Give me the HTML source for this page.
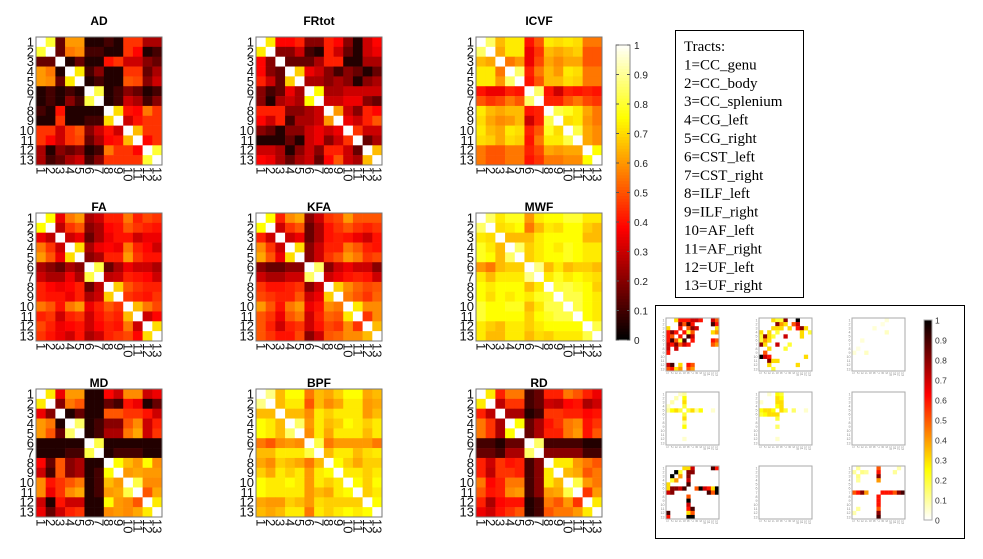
<!DOCTYPE html>
<html><head><meta charset="utf-8"><style>
html,body{margin:0;padding:0;background:#fff;}
svg{display:block;font-family:"Liberation Sans",sans-serif;}
</style></head><body>
<svg id="fig" width="983" height="559" viewBox="0 0 983 559" xmlns="http://www.w3.org/2000/svg">
<g id="main"></g>
<g id="cbar"></g>
<g>
<rect x="675.5" y="30.5" width="128" height="267" fill="#fff" stroke="#000" stroke-width="1"/>
<text id="legtext" font-family="Liberation Serif, serif" font-size="15" fill="#000"></text>
</g>
<g>
<rect x="655.5" y="305.5" width="309" height="233" fill="#fff" stroke="#000" stroke-width="1"/>
<g id="inset"></g>
<g id="icbar"></g>
</g>
</svg>
<script>
const tickLabels = ["1","2","3","4","5","6","7","8","9","10","11","12","13"];
const legendLines = ["Tracts:","1=CC_genu","2=CC_body","3=CC_splenium","4=CG_left","5=CG_right","6=CST_left","7=CST_right","8=ILF_left","9=ILF_right","10=AF_left","11=AF_right","12=UF_left","13=UF_right"];
const cbarTicks = [0,0.1,0.2,0.3,0.4,0.5,0.6,0.7,0.8,0.9,1];
const titles = ["AD","FRtot","ICVF","FA","KFA","MWF","MD","BPF","RD"];
// upper-triangle rows (starting at diagonal)
const AD = [[1,.8,.15,.6,.6,.05,.05,.1,.05,.45,.45,.25,.25],[1,.15,.55,.58,.1,.1,.05,.05,.45,.38,.05,.1],[1,.05,.15,.05,.05,.4,.45,.3,.3,.2,.15],[1,.72,.1,.2,.05,.05,.45,.45,.15,.25],[1,.05,.1,.05,.05,.5,.48,.2,.3],[1,.82,.05,.1,.2,.15,.05,.1],[1,.05,.1,.3,.25,.1,.2],[1,.7,.4,.38,.55,.45],[1,.3,.4,.45,.45],[1,.65,.45,.45],[1,.38,.45],[1,.8],[1]];
const FRtot = [[1,.72,.38,.38,.42,.2,.2,.42,.38,.2,.05,.3,.38],[1,.2,.2,.3,.1,.05,.42,.3,.15,.05,.3,.35],[1,.15,.15,.15,.25,.42,.42,.05,.05,.25,.25],[1,.68,.35,.3,.2,.1,.2,.15,.05,.15],[1,.25,.25,.2,.25,.2,.05,.2,.25],[1,.75,.25,.25,.3,.3,.3,.3],[1,.3,.3,.35,.35,.2,.15],[1,.6,.3,.2,.42,.38],[1,.35,.3,.42,.5],[1,.45,.3,.3],[1,.15,.25],[1,.65],[1]];
const ICVF = [[1,.85,.65,.72,.72,.4,.5,.72,.7,.72,.7,.55,.55],[1,.62,.72,.72,.35,.45,.65,.62,.65,.68,.5,.5],[1,.55,.6,.35,.48,.62,.58,.62,.62,.5,.5],[1,.85,.42,.55,.65,.6,.72,.7,.55,.55],[1,.4,.5,.65,.65,.7,.68,.55,.55],[1,.85,.4,.3,.42,.4,.42,.4],[1,.42,.42,.5,.55,.48,.45],[1,.82,.78,.72,.62,.55],[1,.7,.72,.6,.55],[1,.82,.62,.58],[1,.62,.58],[1,.75],[1]];
const FA = [[1,.75,.35,.55,.6,.25,.3,.42,.42,.55,.42,.48,.45],[1,.28,.45,.5,.2,.25,.38,.4,.5,.45,.42,.4],[1,.3,.35,.15,.25,.35,.4,.4,.3,.35,.35],[1,.7,.25,.35,.38,.35,.55,.42,.38,.3],[1,.2,.25,.42,.42,.6,.45,.4,.4],[1,.82,.15,.25,.35,.3,.3,.25],[1,.28,.3,.42,.4,.38,.3],[1,.68,.5,.45,.42,.42],[1,.45,.42,.4,.45],[1,.65,.55,.48],[1,.3,.38],[1,.7],[1]];
const KFA = [[1,.75,.42,.58,.62,.2,.3,.45,.48,.6,.5,.5,.5],[1,.3,.45,.5,.15,.25,.4,.45,.5,.45,.42,.45],[1,.3,.35,.15,.25,.4,.42,.4,.35,.3,.4],[1,.7,.2,.3,.42,.42,.55,.5,.42,.4],[1,.2,.3,.45,.5,.6,.55,.45,.48],[1,.85,.2,.3,.35,.3,.3,.2],[1,.3,.35,.4,.42,.4,.3],[1,.68,.58,.52,.48,.5],[1,.55,.5,.45,.52],[1,.72,.58,.58],[1,.45,.58],[1,.65],[1]];
const MWF = [[1,.85,.72,.78,.78,.6,.72,.75,.75,.8,.8,.72,.72],[1,.7,.72,.75,.55,.65,.72,.7,.75,.75,.68,.65],[1,.65,.65,.65,.72,.75,.75,.75,.75,.65,.65],[1,.85,.68,.72,.75,.72,.78,.75,.72,.72],[1,.68,.72,.75,.75,.78,.75,.72,.72],[1,.88,.65,.72,.65,.68,.68,.65],[1,.72,.78,.72,.75,.72,.7],[1,.8,.82,.78,.75,.68],[1,.82,.82,.75,.72],[1,.82,.75,.72],[1,.75,.72],[1,.82],[1]];
const MD = [[1,.72,.35,.6,.6,.05,.05,.38,.3,.58,.58,.3,.35],[1,.2,.55,.5,.05,.05,.15,.1,.4,.35,.05,.15],[1,.05,.15,.05,.05,.5,.5,.45,.45,.4,.3],[1,.85,.05,.1,.2,.2,.5,.58,.3,.42],[1,.05,.1,.25,.25,.55,.62,.3,.45],[1,.82,.05,.05,.05,.05,.05,.05],[1,.05,.1,.1,.1,.05,.05],[1,.75,.65,.6,.75,.58],[1,.6,.62,.6,.6],[1,.82,.58,.58],[1,.5,.62],[1,.72],[1]];
const BPF = [[1,.88,.65,.75,.75,.55,.65,.62,.68,.75,.75,.62,.65],[1,.65,.72,.72,.5,.65,.58,.62,.72,.72,.6,.62],[1,.65,.65,.58,.72,.68,.72,.72,.72,.6,.65],[1,.85,.6,.72,.65,.68,.75,.72,.68,.72],[1,.58,.72,.62,.72,.72,.72,.65,.72],[1,.82,.55,.6,.6,.6,.6,.55],[1,.65,.72,.72,.65,.7,.72],[1,.75,.68,.62,.68,.68],[1,.72,.72,.68,.72],[1,.75,.68,.75],[1,.68,.72],[1,.75],[1]];
const RD = [[1,.72,.42,.55,.55,.1,.15,.42,.42,.55,.5,.42,.35],[1,.28,.45,.45,.1,.15,.3,.28,.38,.4,.25,.3],[1,.25,.25,.05,.1,.45,.45,.42,.42,.38,.4],[1,.75,.15,.25,.4,.45,.55,.58,.4,.45],[1,.15,.25,.42,.42,.55,.6,.4,.5],[1,.85,.1,.1,.1,.1,.05,.05],[1,.2,.2,.2,.2,.1,.1],[1,.72,.72,.6,.55,.5],[1,.65,.62,.5,.55],[1,.82,.6,.55],[1,.45,.6],[1,.72],[1]];
// inset sparse entries [row, col, value] (mirrored)
const INS1 = [[1,3,.3],[1,6,.6],[1,7,.7],[1,8,.7],[1,9,.6],[2,6,.9],[2,7,.6],[1,12,.7],[1,13,.5],[3,6,.5],[3,7,.8],[3,8,.7],[4,1,.6],[4,2,.8],[4,3,.6],[4,5,.3],[4,6,.2],[4,7,.5],[4,12,.6],[4,13,.4],[5,1,.6],[5,2,.5],[5,4,.6],[5,6,.9],[5,7,.7],[6,7,.6],[12,2,.9],[12,4,.3],[12,6,.6],[12,7,.5],[13,2,.6],[13,3,.3],[13,6,.5],[13,7,.4]];
const INS2 = [[1,6,.2],[1,7,.8],[1,10,.9],[2,7,.3],[2,9,.5],[2,10,.7],[3,5,.3],[3,6,.3],[3,8,.3],[3,10,.6],[3,11,.8],[4,1,.3],[4,3,.3],[4,5,.2],[4,11,.3],[5,1,.2],[5,2,.8],[6,2,.4],[7,5,.7],[7,8,.2],[10,1,1],[11,3,.8],[11,5,.3],[12,3,.3],[12,10,.3],[13,4,.2]];
const INS3 = [[1,9,.04],[3,6,.04],[4,9,.06],[2,8,.03]];
const INS4 = [[5,1,.1],[5,2,.25],[5,3,.3],[5,4,.2],[5,6,.2],[5,7,.3],[5,8,.1],[5,9,.25],[5,12,.05],[2,3,.08],[1,4,.06]];
const INS5 = [[5,1,.25],[5,2,.3],[5,3,.3],[5,4,.25],[5,6,.3],[5,7,.2],[5,9,.15],[5,12,.05],[1,6,.2],[2,6,.25],[3,6,.3],[4,6,.3],[1,3,.05]];
const INS6 = [];
const INS7 = [[6,1,.3],[6,2,.8],[6,3,.8],[6,4,.7],[6,5,.9],[6,8,.5],[6,9,1],[6,10,.7],[6,11,.6],[6,12,.3],[6,13,1],[2,3,1],[3,4,.4],[1,5,.3],[1,7,.7],[2,7,.8],[1,12,.9],[1,13,.6],[11,7,.9],[12,7,.5],[13,7,1],[2,4,.2]];
const INS8 = [];
const INS9 = [[7,1,.5],[7,2,.6],[7,3,.8],[7,4,.4],[7,8,.6],[7,9,.6],[7,10,.6],[7,11,.5],[7,12,.8],[7,13,.9],[1,2,.1],[2,3,.12],[2,4,.1],[1,12,.08],[11,2,.1]];

const mats = [AD,FRtot,ICVF,FA,KFA,MWF,MD,BPF,RD];
const insets = [INS1,INS2,INS3,INS4,INS5,INS6,INS7,INS8,INS9];
const NS = "http://www.w3.org/2000/svg";
function el(t,a,p){const e=document.createElementNS(NS,t);for(const k in a)e.setAttribute(k,a[k]);if(p)p.appendChild(e);return e;}
function hot(t){t=Math.max(0,Math.min(1,t||0));const r=Math.min(1,t/0.375),g=Math.max(0,Math.min(1,(t-0.375)/0.375)),b=Math.max(0,Math.min(1,(t-0.75)/0.25));return `rgb(${Math.round(r*255)},${Math.round(g*255)},${Math.round(b*255)})`;}
function full(up){const n=13,m=[];for(let i=0;i<n;i++)m.push(new Array(n).fill(0));for(let i=0;i<n;i++)for(let j=i;j<n;j++){const v=up[i][j-i];m[i][j]=v;m[j][i]=v;}return m;}
function sparse(list){const m=[];for(let i=0;i<13;i++)m.push(new Array(13).fill(0));list.forEach(([r,c,v])=>{m[r-1][c-1]=v;m[c-1][r-1]=v;});return m;}

const main=document.getElementById('main');
const colX=[36,256,476], rowY=[37,213,389], W=126, H=128;
const titleY=[25,211,387];
mats.forEach((up,k)=>{
  const x0=colX[k%3], y0=rowY[Math.floor(k/3)], m=full(up);
  const g=el('g',{},main);
  
  
  const t=el('text',{x:x0+W/2,y:titleY[Math.floor(k/3)],'text-anchor':'middle','font-size':12,'font-weight':'bold',fill:'#000'},g);
  t.textContent=titles[k];
  
  
  const cw=W/13, ch=H/13;
  const xs=j=>x0+j*cw, ys=i=>y0+i*ch;
  for(let i=0;i<13;i++)for(let j=0;j<13;j++){
    const r=el('rect',{x:xs(j),y:ys(i),width:cw+0.3,height:ch+0.3,fill:hot(m[i][j])},g);
    
    
  }
  el('rect',{x:x0,y:y0,width:W,height:H,fill:'none',stroke:'#777','stroke-width':1},g);
  tickLabels.forEach((lb,i)=>{
    const tt=el('text',{x:x0-2,y:ys(i)+ch/2+4.5,'text-anchor':'end','font-size':13,fill:'#111'},g);
    tt.textContent=lb;
    
    
    const tb=el('text',{transform:`translate(${xs(i)+cw/2-4.5},${y0+H+2}) rotate(90)`,'font-size':13,fill:'#111'},g);
    tb.textContent=lb;
    
    
  });
});

// main colorbar
const cb=document.getElementById('cbar');
const cbx=616,cbTop=45,cbBot=340,cbw=14;
const cy=v=>cbBot-v*(cbBot-cbTop);
for(let i=0;i<100;i++){const v=i/100;el('rect',{x:cbx,y:cy(v+0.01),width:cbw,height:(cbBot-cbTop)/100+0.5,fill:hot(v)},cb);}
el('rect',{x:cbx,y:cbTop,width:cbw,height:cbBot-cbTop,fill:'none',stroke:'#888','stroke-width':1},cb);
cbarTicks.forEach(v=>{el('line',{x1:cbx,x2:cbx+3,y1:cy(v),y2:cy(v),stroke:'#555'},cb);el('line',{x1:cbx+cbw-3,x2:cbx+cbw,y1:cy(v),y2:cy(v),stroke:'#555'},cb);
  const t=el('text',{x:cbx+cbw+4,y:cy(v)+4,'font-size':10,fill:'#222'},cb);t.textContent=String(v);
  
  });

// legend
const lt=document.getElementById('legtext');
legendLines.forEach((s,i)=>{const ts=el('tspan',{x:684,y:51+i*18.4},lt);ts.textContent=s;
  
  });

// insets
const ins=document.getElementById('inset');
const iX=[666,759,852], iY=[318,392,466], IW=53;
insets.forEach((lst,k)=>{
  const x0=iX[k%3], y0=iY[Math.floor(k/3)], m=sparse(lst), c=IW/13;
  const g=el('g',{},ins);
  
  
  for(let i=0;i<13;i++)for(let j=0;j<13;j++){
    if(m[i][j]<=0)continue;
    const r=el('rect',{x:x0+j*c,y:y0+i*c,width:c+0.2,height:c+0.2,fill:hot(1-m[i][j])},g);
    
    
  }
  el('rect',{x:x0,y:y0,width:IW,height:IW,fill:'none',stroke:'#aaa','stroke-width':1},g);
  tickLabels.forEach((lb,i)=>{
    const a=el('text',{x:x0-1.5,y:y0+i*c+c/2+1.3,'text-anchor':'end','font-size':3.6,fill:'#888'},g);a.textContent=lb;
    const b=el('text',{transform:`translate(${x0+i*c+c/2-1.3},${y0+IW+1}) rotate(90)`,'font-size':3.6,fill:'#888'},g);b.textContent=lb;
  });
});
const ic=document.getElementById('icbar');
const icx=924,icTop=320,icBot=520,icw=8;
const iy=v=>icBot-v*(icBot-icTop);
for(let i=0;i<100;i++){const v=i/100;el('rect',{x:icx,y:iy(v+0.01),width:icw,height:(icBot-icTop)/100+0.5,fill:hot(1-v)},ic);}
el('rect',{x:icx,y:icTop,width:icw,height:icBot-icTop,fill:'none',stroke:'#aaa','stroke-width':1},ic);
cbarTicks.forEach(v=>{const t=el('text',{x:icx+icw+3,y:iy(v)+3.5,'font-size':8.5,fill:'#333'},ic);t.textContent=String(v);
  
  });
</script>
</body></html>
